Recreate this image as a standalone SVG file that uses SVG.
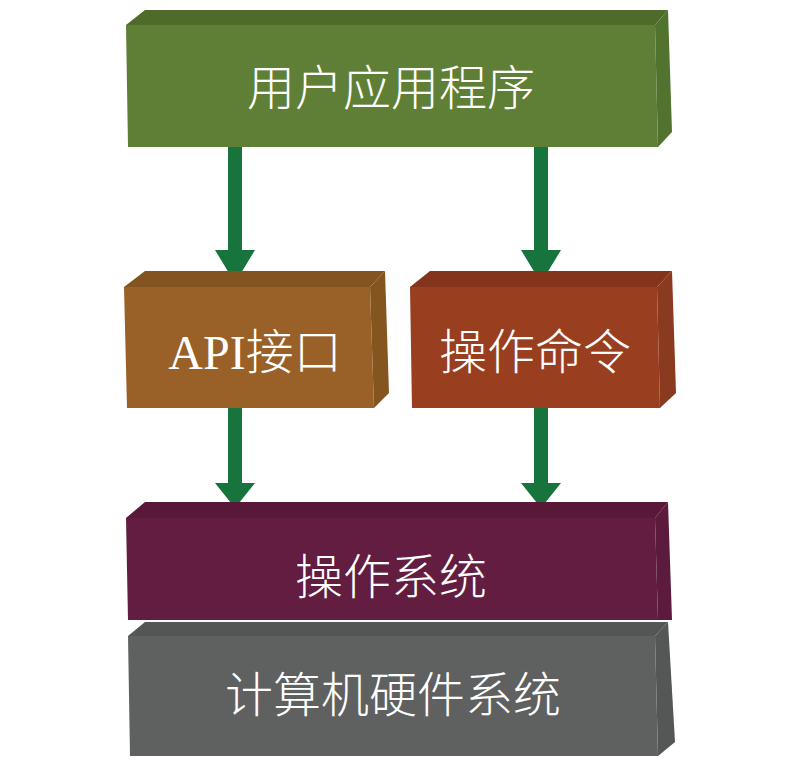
<svg xmlns="http://www.w3.org/2000/svg" width="800" height="768" viewBox="0 0 800 768">
<style>
.lbl{font-family:"Liberation Serif","Noto Sans CJK SC",serif;font-size:48px;font-weight:300;fill:#ffffff;text-anchor:middle;dominant-baseline:central}
.arrow{fill:#16743C}
</style>
<rect width="800" height="768" fill="#ffffff"/>
<g id="connectors">
<path class="arrow" d="M228,147 H242 V250 H255 L235,283 L215,250 H228 Z"/>
<path class="arrow" d="M534,147 H548 V250 H561 L541,283 L521,250 H534 Z"/>
<path class="arrow" d="M228,408 H242 V483 H255 L235,508 L215,483 H228 Z"/>
<path class="arrow" d="M534,408 H548 V483 H561 L541,508 L521,483 H534 Z"/>
</g>
<g id="hardware">
<polygon points="145,622 668,622 655,636 128,636" fill="#545555"/>
<polygon points="655,636 668,622 675,742 658,756" fill="#555656"/>
<polygon points="128,636 655,636 658,756 130,756" fill="#5F6060"/>
<text class="lbl" x="393" y="695">计算机硬件系统</text>
</g>
<g id="os">
<polygon points="145,502 668,502 655,518 126,518" fill="#5A1838"/>
<polygon points="655,518 668,502 672,620 658,620" fill="#5C1B3C"/>
<polygon points="126,518 655,518 658,620 128,620" fill="#621D40"/>
<text class="lbl" x="391" y="577">操作系统</text>
</g>
<g id="app">
<polygon points="145,10 668,10 655,25 126,25" fill="#4E6B2A"/>
<polygon points="655,25 668,10 672,132 658,147" fill="#527330"/>
<polygon points="126,25 655,25 658,147 128,147" fill="#5E7F35"/>
<text class="lbl" x="391" y="88">用户应用程序</text>
</g>
<g id="api">
<polygon points="145,271 385,271 370,287 124,287" fill="#835420"/>
<polygon points="370,287 385,271 389,393 374,408" fill="#855520"/>
<polygon points="124,287 370,287 374,408 127,408" fill="#996027"/>
<text class="lbl" x="255" y="352">API接口</text>
</g>
<g id="command">
<polygon points="430,271 672,271 657,287 410,287" fill="#84341A"/>
<polygon points="657,287 672,271 676,393 660,408" fill="#8A3A1E"/>
<polygon points="410,287 657,287 660,408 412,408" fill="#9A3E20"/>
<text class="lbl" x="535" y="352">操作命令</text>
</g>
</svg>
